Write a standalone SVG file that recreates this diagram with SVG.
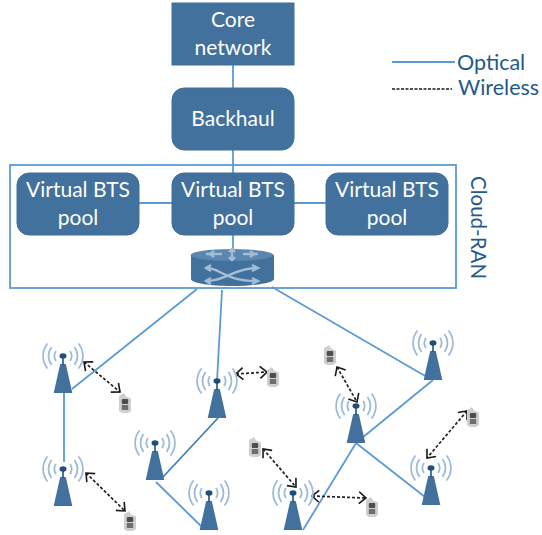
<svg xmlns="http://www.w3.org/2000/svg" width="542" height="535" viewBox="0 0 542 535">
<style>
text{font-family:Lato,"Open Sans","Liberation Sans",sans-serif}
.box{fill:#41719c;stroke:#41719c}
.bt{fill:#fff;font-size:21px;text-anchor:middle}
.leg{fill:#24598c;font-size:21.500px}
.opt{fill:none;stroke:#5b9bd5;stroke-width:1.8}
.wl{fill:none;stroke:#222;stroke-width:1.700;stroke-dasharray:3 2}
.wave{fill:none;stroke:#9dbbd9;stroke-width:1.800}
.rarrow{fill:none;stroke:#a3bdd6;stroke-width:2.400}
</style>
<defs>
<marker id="oa" markerWidth="12" markerHeight="14" refX="9" refY="7" orient="auto-start-reverse" markerUnits="userSpaceOnUse"><path d="M2 1L9 7L2 13" fill="none" stroke="#1a1a1a" stroke-width="1.600"/></marker>
<symbol id="tower" overflow="visible" viewBox="-25 -15 50 55" width="50" height="55">
<path class="wave" d="M-7-5A9 9 0 0 0-7 5M7-5A9 9 0 0 1 7 5M-11.500-9A15 15 0 0 0-11.500 9M11.500-9A15 15 0 0 1 11.500 9M-15.500-12.500A20 20 0 0 0-15.500 12.500M15.500-12.500A20 20 0 0 1 15.500 12.500"/>
<ellipse cx="0" cy="0" rx="3.500" ry="2.800" fill="#1f4e79"/>
<path d="M-2.800 8H2.800L9.300 37H-9.300Z" fill="#41719c"/>
<path d="M0 2V9" stroke="#1f4e79" stroke-width="1.600"/>
</symbol>
<symbol id="phone" overflow="visible" viewBox="-8 -10 16 20" width="16" height="20">
<path d="M-6-6Q-6-8-4-8L-1-10L1-6.500L6-4.500V8L3 10H-3L-6 8Z" fill="#cfcfcf"/>
<rect x="-3.200" y="-4" width="6.400" height="5" rx="1" fill="#4d4d4d"/>
<rect x="-3.200" y="2" width="6.400" height="5" fill="#6e6e6e"/>
</symbol>
</defs>

<g id="connectors">
<path class="opt" d="M233 50V90M233 150V175M233 235V250M138 203H173M293 203H327"/>
<path class="opt" d="M197 289L72 389M222 290L217 381M272 287L420 373L431 379M433 380L362 438M356 443L425 497M356 443L303 530M64 392V462M156 482L203 528"/>
<path fill="none" stroke="#3f7fb8" stroke-width="1.800" d="M218 418L163 477"/>
<path class="wl" marker-start="url(#oa)" marker-end="url(#oa)" d="M84 362L120 392"/>
<path class="wl" marker-start="url(#oa)" marker-end="url(#oa)" d="M236 374L267 372"/>
<path class="wl" marker-start="url(#oa)" marker-end="url(#oa)" d="M86 473L125 511"/>
<path class="wl" marker-start="url(#oa)" marker-end="url(#oa)" d="M337 367L357 402"/>
<path class="wl" marker-start="url(#oa)" marker-end="url(#oa)" d="M263 449L296 487"/>
<path class="wl" marker-start="url(#oa)" marker-end="url(#oa)" d="M312 496L366 498"/>
<path class="wl" marker-start="url(#oa)" marker-end="url(#oa)" d="M467 411L427 458"/>
</g>

<g id="cloud-ran">
<rect x="10" y="165" width="446" height="123" fill="none" stroke="#5b9bd5" stroke-width="1.800"/>
<text transform="translate(471 176) rotate(90)" font-size="20.500" fill="#24598c">Cloud-RAN</text>
</g>

<g id="core"><rect class="box" x="172" y="3" width="122" height="62"/>
<text class="bt" x="233" y="27">Core</text><text class="bt" x="233" y="55">network</text></g>
<g id="backhaul"><rect class="box" x="172" y="88" width="122" height="62" rx="12"/>
<text class="bt" x="233" y="126">Backhaul</text></g>
<g id="bts1"><rect class="box" x="17" y="173" width="122" height="62" rx="12"/>
<text class="bt" x="78" y="197">Virtual BTS</text><text class="bt" x="78" y="225">pool</text></g>
<g id="bts2"><rect class="box" x="172" y="173" width="122" height="62" rx="12"/>
<text class="bt" x="233" y="197">Virtual BTS</text><text class="bt" x="233" y="225">pool</text></g>
<g id="bts3"><rect class="box" x="326" y="173" width="122" height="62" rx="12"/>
<text class="bt" x="387" y="197">Virtual BTS</text><text class="bt" x="387" y="225">pool</text></g>

<g id="router">
<path d="M191 255V279C191 283 210 286 232 286S274 283 274 279V255Z" fill="#41719c"/>
<ellipse cx="232" cy="255" rx="41.500" ry="6" fill="#5a87ae"/>
<path class="rarrow" d="M206 254H222M243 254H258M232 250V259M207 268C220 268 225 281 256 281M207 281C225 281 235 268 256 268"/>
<path class="rarrow" d="M211 265L206 268L211 271M211 278L206 281L211 284M252 265L258 268L252 271M252 278L258 281L252 284M210 254l4-3M210 254l4 3M254 254l-4-3M254 254l-4 3M229 252l3-3l3 3M229 257l3 3l3-3"/>
</g>

<g id="towers">
<use href="#tower" x="38" y="341"/>
<use href="#tower" x="38" y="454"/>
<use href="#tower" x="130" y="428"/>
<use href="#tower" x="184" y="478"/>
<use href="#tower" x="192" y="366"/>
<use href="#tower" x="268" y="478"/>
<use href="#tower" x="331" y="391"/>
<use href="#tower" x="408" y="328"/>
<use href="#tower" x="406" y="453"/>
</g>
<g id="phones">
<use href="#phone" x="117" y="393"/>
<use href="#phone" x="265" y="367"/>
<use href="#phone" x="122" y="511"/>
<use href="#phone" x="322" y="345"/>
<use href="#phone" x="465" y="407"/>
<use href="#phone" x="247" y="437"/>
<use href="#phone" x="364" y="497"/>
</g>

<g id="legend">
<path class="opt" d="M392 62H455"/>
<path stroke="#1a1a1a" stroke-width="1.500" stroke-dasharray="3 1.500" fill="none" d="M392 89H452"/>
<text class="leg" x="457" y="70">Optical</text>
<text class="leg" x="458" y="95">Wireless</text>
</g>
</svg>
